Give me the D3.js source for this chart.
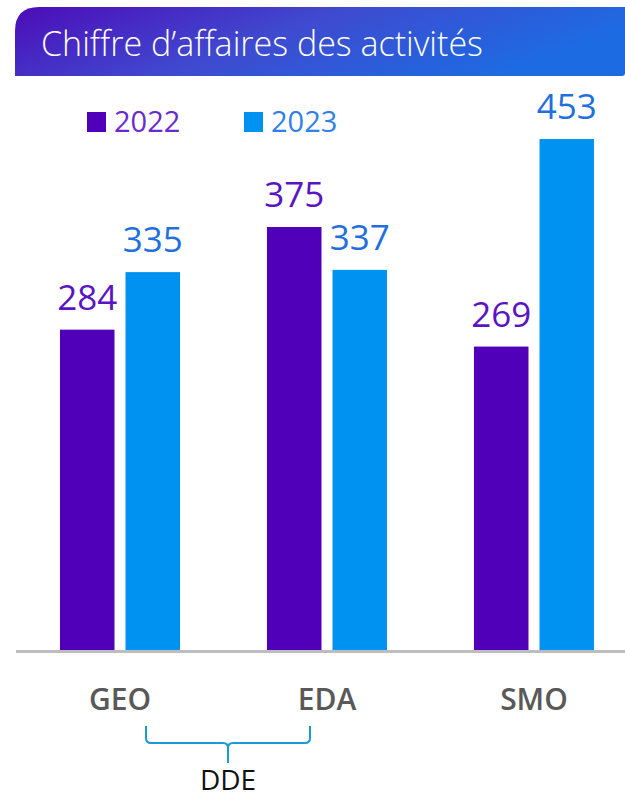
<!DOCTYPE html>
<html>
<head>
<meta charset="utf-8">
<script src="https://cdn.jsdelivr.net/npm/d3@7"></script>
<style>
  html, body { margin: 0; padding: 0; background: #fff; }
  svg { display: block; font-family: "Open Sans", "Noto Sans", sans-serif; }
</style>
</head>
<body>
<svg id="chart" width="625" height="797"></svg>
<script>
// chart data
var categories = ['GEO', 'EDA', 'SMO'];
var years = ['2022', '2023'];
var values2022 = [284, 375, 269];
var values2023 = [335, 337, 453];
var groupLabel = 'DDE';           // bracket below GEO + EDA
var groupMembers = ['GEO', 'EDA'];
var title = 'Chiffre d\u2019affaires des activités';

var barColor = {'2022': '#5000b8', '2023': '#0092f0'};
var labelColor = {'2022': '#5a14c4', '2023': '#1f6fe0'};
var legendColor = {'2022': '#6a2ad2', '2023': '#2f80e8'};

var svg = d3.select('#chart');

// title banner, gradient purple -> blue
var defs = svg.append('defs');
var grad = defs.append('linearGradient').attr('id', 'banner')
    .attr('x1', '0%').attr('y1', '0%').attr('x2', '100%').attr('y2', '30%');
grad.append('stop').attr('offset', '0%').attr('stop-color', '#4d0cb8');
grad.append('stop').attr('offset', '50%').attr('stop-color', '#3f4ad0');
grad.append('stop').attr('offset', '100%').attr('stop-color', '#1d6be2');

var bx = 15, by = 7, bw = 625 - 15, bh = 69, r = 24;
svg.append('path')
    .attr('d', 'M' + bx + ',' + (by + bh) + 'V' + (by + r) +
        'Q' + bx + ',' + by + ' ' + (bx + r) + ',' + by +
        'H' + (bx + bw) + 'V' + (by + bh - 3) +
        'Q' + (bx + bw) + ',' + (by + bh) + ' ' + (bx + bw - 3) + ',' + (by + bh) + 'Z')
    .attr('fill', 'url(#banner)');

svg.append('text')
    .attr('x', 41).attr('y', 56)
    .attr('fill', '#fff')
    .attr('font-size', 34)
    .attr('font-weight', 300)
    .text(title);

// scales
var yScale = d3.scaleLinear().domain([0, 500]).range([650, 86]);
var x0 = d3.scaleBand().domain(categories).range([16.5, 637.5])
    .paddingInner(0.42).paddingOuter(0.21);
var x1 = d3.scaleBand().domain(years).range([0, x0.bandwidth()])
    .paddingInner(0.168);

var rows = categories.map(function(c, i){
    return {cat: c, vals: [
        {year: '2022', v: values2022[i]},
        {year: '2023', v: values2023[i]}
    ]};
});

var groups = svg.append('g').selectAll('g.grp').data(rows).enter()
    .append('g').attr('class', 'grp')
    .attr('transform', function(d){ return 'translate(' + x0(d.cat) + ',0)'; });

groups.selectAll('rect').data(function(d){ return d.vals; }).enter()
    .append('rect')
    .attr('x', function(d){ return x1(d.year); })
    .attr('y', function(d){ return yScale(d.v); })
    .attr('width', x1.bandwidth())
    .attr('height', function(d){ return yScale(0) - yScale(d.v); })
    .attr('fill', function(d){ return barColor[d.year]; });

groups.selectAll('text.val').data(function(d){ return d.vals; }).enter()
    .append('text').attr('class', 'val')
    .attr('x', function(d){ return x1(d.year) + x1.bandwidth() / 2; })
    .attr('y', function(d){ return yScale(d.v) - 20; })
    .attr('text-anchor', 'middle')
    .attr('font-size', 35)
    .attr('fill', function(d){ return labelColor[d.year]; })
    .text(function(d){ return d.v; });

// baseline
svg.append('line')
    .attr('x1', 16).attr('x2', 625)
    .attr('y1', 651.5).attr('y2', 651.5)
    .attr('stroke', '#bdbdbd').attr('stroke-width', 3);

// category labels
svg.append('g').selectAll('text').data(categories).enter()
    .append('text')
    .attr('x', function(d){ return x0(d) + x0.bandwidth() / 2; })
    .attr('y', 710)
    .attr('text-anchor', 'middle')
    .attr('font-size', 30)
    .attr('font-weight', 600)
    .attr('fill', '#595959')
    .text(function(d){ return d; });

// legend
var legend = svg.append('g').selectAll('g').data(years).enter()
    .append('g')
    .attr('transform', function(d, i){ return 'translate(' + (87 + i * 157) + ',112)'; });
legend.append('rect')
    .attr('width', 19).attr('height', 20)
    .attr('fill', function(d){ return barColor[d]; });
legend.append('text')
    .attr('x', 27).attr('y', 20)
    .attr('font-size', 29)
    .attr('fill', function(d){ return legendColor[d]; })
    .text(function(d){ return d; });

// DDE bracket
var bl = x0(groupMembers[0]) + x0.bandwidth() / 2 + 26;
var br = x0(groupMembers[1]) + x0.bandwidth() / 2 - 17;
var bm = (bl + br) / 2;
var yTop = 726, yMid = 743, yTip = 763, c = 5;
svg.append('path')
    .attr('d', 'M' + bl + ',' + yTop + 'V' + (yMid - c) +
        'Q' + bl + ',' + yMid + ' ' + (bl + c) + ',' + yMid +
        'H' + (bm - c) +
        'Q' + bm + ',' + yMid + ' ' + bm + ',' + (yMid + c) +
        'V' + yTip +
        'M' + bm + ',' + (yMid + c) +
        'Q' + bm + ',' + yMid + ' ' + (bm + c) + ',' + yMid +
        'H' + (br - c) +
        'Q' + br + ',' + yMid + ' ' + br + ',' + (yMid - c) +
        'V' + yTop)
    .attr('fill', 'none')
    .attr('stroke', '#1a9ad8')
    .attr('stroke-width', 2);

svg.append('text')
    .attr('x', bm).attr('y', 790)
    .attr('text-anchor', 'middle')
    .attr('font-size', 28)
    .attr('fill', '#111')
    .text(groupLabel);
</script>
</body>
</html>
